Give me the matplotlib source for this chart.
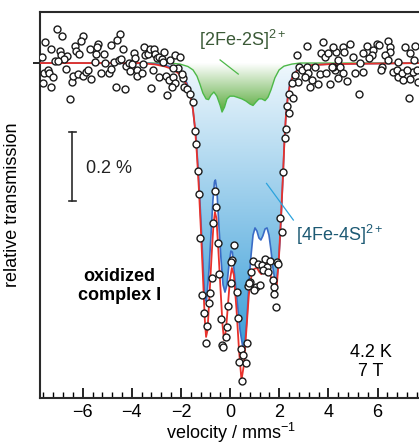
import numpy as np
import matplotlib.pyplot as plt
from matplotlib.colors import LinearSegmentedColormap
from matplotlib.ticker import MultipleLocator

plt.rcParams['font.family'] = ['Liberation Sans', 'DejaVu Sans']
plt.rcParams['mathtext.fontset'] = 'custom'
plt.rcParams['mathtext.rm'] = 'Liberation Sans'
plt.rcParams['mathtext.it'] = 'Liberation Sans:italic'
plt.rcParams['mathtext.bf'] = 'Liberation Sans:bold'

# measured points: velocity (mm/s) and transmission change (%)
left_v = [-7.06, -6.83, -7.52, -7.66, -7.28, -6.94, -6.90, -6.63, -6.76, -7.11,
          -7.00, -7.57, -7.41, -7.37, -7.21, -7.62, -7.30, -6.69, -6.42, -6.39,
          -6.19, -6.53, -5.99, -6.06, -6.33, -6.26, -6.15, -5.72, -5.99, -5.85,
          -5.78, -5.65, -5.51, -5.45, -5.38, -5.41, -5.24, -5.15, -5.11, -4.94,
          -4.86, -4.84, -4.73, -4.50, -4.59, -4.36, -4.54, -4.43, -4.66, -4.29,
          -4.23, -4.13, -3.91, -3.86, -4.09, -3.79, -3.98, -3.80, -3.51, -3.60,
          -3.56, -3.47, -3.33, -3.26, -3.10, -3.06, -2.99, -2.88, -2.79, -2.75,
          -2.68, -2.45, -2.25, -2.04, -3.15, -2.88, -2.61, -2.48, -2.34, -2.25,
          -2.38, -2.56, -3.23, -2.11, -1.91, -1.97, -1.88, -1.77, -1.64, -1.53, -2.31]
left_t = [0.099, 0.079, 0.061, 0.018, 0.041, 0.035, 0.023, 0.020, 0.011, 0.005,
          0.007, -0.028, -0.020, -0.030, -0.040, -0.057, -0.069, -0.018, -0.054, -0.038,
          -0.032, -0.104, 0.079, 0.065, 0.049, 0.036, 0.025, 0.041, -0.038, -0.027,
          -0.020, -0.047, 0.004, 0.025, 0.054, 0.047, -0.030, 0.026, 0.001, -0.028,
          -0.017, 0.052, 0.004, 0.084, 0.067, 0.041, 0.009, 0.012, -0.069, -0.076,
          -0.008, -0.001, 0.028, 0.014, -0.023, -0.020, -0.003, -0.038, 0.047, -0.028,
          -0.003, 0.023, 0.025, 0.040, 0.041, 0.026, 0.014, 0.017, 0.011, 0.004,
          0.033, 0.009, 0.023, 0.018, -0.020, -0.040, -0.038, -0.049, -0.041, -0.059,
          -0.069, -0.093, -0.073, -0.015, -0.044, -0.032, -0.069, -0.076, -0.090, -0.112, -0.015]

center_v = [-1.43, -1.39, -1.32, -1.26, -1.23, -0.62, -0.58, -0.69, -0.51, 0.17,
            0.06, 0.03, -0.75, -0.44, 0.02, -0.82, -1.13, -0.86, 0.26, -0.08,
            -1.07, -0.39, -0.93, 0.31, -0.12, -0.18, -1.00, -0.35, -0.28, 0.67,
            0.43, 0.53, 0.37, 0.64, 0.47, 0.92, 0.85, 1.14, 1.28, 1.42,
            1.62, 1.48, 1.32, 1.55, 0.81, 0.71, 0.76, 1.05, 0.97, 1.21,
            1.73, 1.79, 1.78, 1.89, 1.96, 1.85, 2.11, 2.03, 2.16, 2.23,
            2.27, 2.32, 2.39, 2.40, 2.57]
center_t = [-0.197, -0.235, -0.312, -0.381, -0.508, -0.370, -0.417, -0.465, -0.521, -0.528,
            -0.571, -0.578, -0.623, -0.612, -0.637, -0.668, -0.673, -0.695, -0.665, -0.705,
            -0.726, -0.743, -0.763, -0.740, -0.766, -0.794, -0.813, -0.818, -0.823, -0.813,
            -0.830, -0.845, -0.866, -0.869, -0.922, -0.573, -0.607, -0.583, -0.586, -0.568,
            -0.573, -0.591, -0.600, -0.607, -0.634, -0.647, -0.639, -0.649, -0.658, -0.642,
            -0.629, -0.649, -0.670, -0.576, -0.583, -0.708, -0.490, -0.450, -0.315, -0.218,
            -0.191, -0.125, -0.144, -0.091, -0.102]

right_v = [3.11, 2.73, 3.76, 3.68, 3.86, 3.99, 4.29, 4.40, 2.81, 2.91,
           3.11, 3.18, 3.45, 3.32, 3.25, 3.56, 3.65, 3.90, 4.06, 4.26,
           4.19, 2.64, 2.77, 2.50, 3.04, 4.87, 4.60, 4.63, 4.17, 5.01,
           5.41, 5.55, 5.96, 5.82, 5.76, 6.06, 6.43, 6.50, 6.50, 6.30,
           7.11, 7.52, 7.48, 7.42, 7.61, 4.13, 4.47, 4.58, 4.40, 4.74,
           5.08, 5.28, 5.41, 5.66, 6.16, 6.12, 6.61, 6.77, 6.84, 6.98,
           7.18, 7.31, 7.04, 5.25, 7.29, 7.65, 6.43, 6.84, 7.31]
right_t = [0.049, 0.023, 0.062, 0.030, 0.018, 0.028, 0.033, 0.009, -0.011, -0.020,
           -0.011, -0.028, -0.011, -0.049, -0.069, -0.061, -0.033, -0.030, -0.061, -0.020,
           -0.011, -0.035, -0.054, -0.059, -0.040, 0.055, 0.047, 0.033, 0.046, 0.018,
           0.028, 0.050, 0.055, 0.038, 0.023, 0.052, 0.065, 0.046, 0.033, 0.023,
           0.047, 0.050, 0.009, -0.025, -0.020, -0.011, -0.011, -0.030, -0.043, -0.052,
           -0.028, 0.001, -0.025, 0.014, -0.011, -0.020, -0.025, -0.020, -0.041, -0.030,
           -0.020, -0.047, -0.049, -0.090, -0.102, -0.054, 0.009, 0.004, 0.028]

# total fit (red)
fit_v = [-7.8, -3.67, -3.06, -2.65, -2.37, -2.12, -1.92, -1.78, -1.68, -1.59,
         -1.51, -1.43, -1.35, -1.27, -1.19, -1.11, -1.03, -0.98, -0.92, -0.84,
         -0.76, -0.68, -0.62, -0.56, -0.48, -0.39, -0.31, -0.25, -0.17, -0.09,
         -0.01, 0.07, 0.15, 0.26, 0.36, 0.46, 0.56, 0.66, 0.76, 0.87,
         0.97, 1.09, 1.19, 1.27, 1.37, 1.48, 1.58, 1.70, 1.82, 1.90,
         1.99, 2.07, 2.15, 2.21, 2.27, 2.35, 2.43, 2.55, 2.72, 2.96,
         3.33, 4.06, 7.8]
fit_t = [0, 0, -0.004, -0.010, -0.017, -0.029, -0.045, -0.061, -0.081, -0.104,
         -0.136, -0.188, -0.267, -0.368, -0.484, -0.615, -0.745, -0.794, -0.774, -0.672,
         -0.565, -0.470, -0.432, -0.449, -0.542, -0.658, -0.759, -0.803, -0.774, -0.701,
         -0.629, -0.594, -0.614, -0.716, -0.832, -0.919, -0.875, -0.774, -0.672, -0.614,
         -0.597, -0.594, -0.606, -0.612, -0.594, -0.583, -0.594, -0.635, -0.672, -0.643,
         -0.557, -0.441, -0.325, -0.223, -0.151, -0.096, -0.064, -0.038, -0.022, -0.012,
         -0.006, -0.003, 0]

# [4Fe-4S]2+ subspectrum (blue)
sub4_v = [-7.8, -3.26, -2.86, -2.53, -2.25, -2.04, -1.88, -1.76, -1.64, -1.55,
          -1.47, -1.39, -1.31, -1.23, -1.15, -1.07, -1.03, -0.96, -0.86, -0.78,
          -0.70, -0.64, -0.60, -0.54, -0.46, -0.37, -0.29, -0.21, -0.13, -0.05,
          0.03, 0.09, 0.15, 0.28, 0.40, 0.52, 0.60, 0.68, 0.76, 0.85,
          0.93, 1.01, 1.09, 1.17, 1.25, 1.33, 1.42, 1.50, 1.58, 1.66,
          1.74, 1.82, 1.88, 1.94, 2.03, 2.09, 2.15, 2.21, 2.27, 2.35,
          2.43, 2.55, 2.72, 2.96, 3.33, 4.06, 7.8]
sub4_t = [0, -0.001, -0.004, -0.009, -0.017, -0.027, -0.041, -0.058, -0.084, -0.113,
          -0.165, -0.215, -0.300, -0.400, -0.515, -0.635, -0.690, -0.687, -0.600, -0.499,
          -0.397, -0.345, -0.339, -0.368, -0.470, -0.571, -0.643, -0.664, -0.643, -0.585,
          -0.545, -0.548, -0.594, -0.687, -0.774, -0.826, -0.812, -0.745, -0.643, -0.557,
          -0.499, -0.478, -0.487, -0.507, -0.513, -0.501, -0.481, -0.478, -0.499, -0.542,
          -0.594, -0.629, -0.638, -0.600, -0.513, -0.426, -0.325, -0.223, -0.151, -0.093,
          -0.058, -0.035, -0.020, -0.012, -0.006, -0.003, 0]

# [2Fe-2S]2+ subspectrum (green)
sub2_v = [-7.8, -2.45, -2.04, -1.72, -1.51, -1.35, -1.23, -1.11, -0.98, -0.88,
          -0.78, -0.66, -0.54, -0.41, -0.33, -0.23, -0.13, -0.01, 0.15, 0.32,
          0.48, 0.64, 0.81, 0.93, 1.05, 1.17, 1.29, 1.42, 1.54, 1.66,
          1.82, 1.99, 2.19, 2.51, 2.84, 7.8]
sub2_t = [0, 0, -0.003, -0.010, -0.020, -0.038, -0.061, -0.087, -0.104, -0.106,
          -0.093, -0.084, -0.096, -0.122, -0.142, -0.128, -0.104, -0.096, -0.096, -0.100,
          -0.104, -0.110, -0.119, -0.123, -0.113, -0.104, -0.104, -0.109, -0.099, -0.078,
          -0.043, -0.020, -0.009, -0.003, 0, 0]

x_ticks = [-6, -4, -2, 0, 2, 4, 6]


def gradient_fill(ax, v, t, top_color, bottom_color, z):
    patch = ax.fill(v, t, facecolor='none', edgecolor='none')[0]
    cmap = LinearSegmentedColormap.from_list('grad', [bottom_color, top_color])
    grad = np.linspace(0, 1, 256).reshape(-1, 1)
    im = ax.imshow(grad, extent=[min(v), max(v), min(t), 0], origin='lower',
                   aspect='auto', cmap=cmap, zorder=z)
    im.set_clip_path(patch)


fig = plt.figure(figsize=(4.19, 4.44), dpi=100)
ax = fig.add_axes([0.0964, 0.1036, 0.9105, 0.8694])

gradient_fill(ax, sub4_v, sub4_t, '#f0f8fd', '#3a9ed8', 1)
gradient_fill(ax, sub2_v, sub2_t, '#ffffff', '#58aa3a', 2)

ax.plot(sub2_v, sub2_t, color='#4db848', lw=1.0, zorder=3)
ax.plot(sub4_v, sub4_t, color='#3a6cc6', lw=1.2, zorder=4)
ax.plot(fit_v, fit_t, color='#e8322c', lw=1.3, zorder=5)

for v, t in [(left_v, left_t), (center_v, center_t), (right_v, right_t)]:
    ax.plot(v, t, 'o', ms=5, mfc='white', mec='#1a1a1a', mew=1.0, zorder=6)

# 0.2 % scale bar
ax.plot([-6.42, -6.42], [-0.2, -0.4], color='#2a2a2a', lw=1.2)
ax.plot([-6.56, -6.28], [-0.2, -0.2], color='#2a2a2a', lw=1.2)
ax.plot([-6.56, -6.28], [-0.4, -0.4], color='#2a2a2a', lw=1.2)
ax.text(-5.87, -0.307, '0.2 %', fontsize=13, ha='left', va='center', color='#222222')

ax.text(-1.26, 0.067, '[2Fe-2S]$^{2+}$', fontsize=13, ha='left', va='center', color='#3b5a37')
ax.plot([-0.41, 0.33], [0.009, -0.032], color='#4db848', lw=0.9, zorder=7)
ax.text(2.68, -0.499, '[4Fe-4S]$^{2+}$', fontsize=13, ha='left', va='center', color='#1d5a74')
ax.plot([1.48, 2.57], [-0.349, -0.455], color='#2ba3dd', lw=0.9, zorder=7)

ax.text(-4.50, -0.646, 'oxidized\ncomplex I', fontsize=13, fontweight='bold',
        ha='center', va='center', linespacing=1.15)
ax.text(5.73, -0.867, '4.2 K\n7 T', fontsize=13, ha='center', va='center', linespacing=1.15)

ax.set_xlim(-7.72, 7.8)
ax.set_ylim(-0.971, 0.148)

ax.set_xticks(x_ticks)
ax.xaxis.set_minor_locator(MultipleLocator(0.4))
ax.tick_params(axis='x', which='major', direction='in', length=7, width=1.2, labelsize=13, pad=4)
ax.tick_params(axis='x', which='minor', direction='in', length=4, width=1.0)
ax.set_yticks([0])
ax.set_yticklabels([])
ax.tick_params(axis='y', direction='out', length=5, width=1.2)

for side in ['left', 'top', 'bottom']:
    ax.spines[side].set_linewidth(1.5)
    ax.spines[side].set_color('#2a2a2a')
ax.spines['right'].set_visible(False)

ax.set_xlabel('velocity / mms$^{-1}$', fontsize=13, labelpad=0)
ax.set_ylabel('relative transmission', fontsize=13)
ax.yaxis.set_label_coords(-0.05, 0.5)

fig.savefig('out.png', dpi=100)
